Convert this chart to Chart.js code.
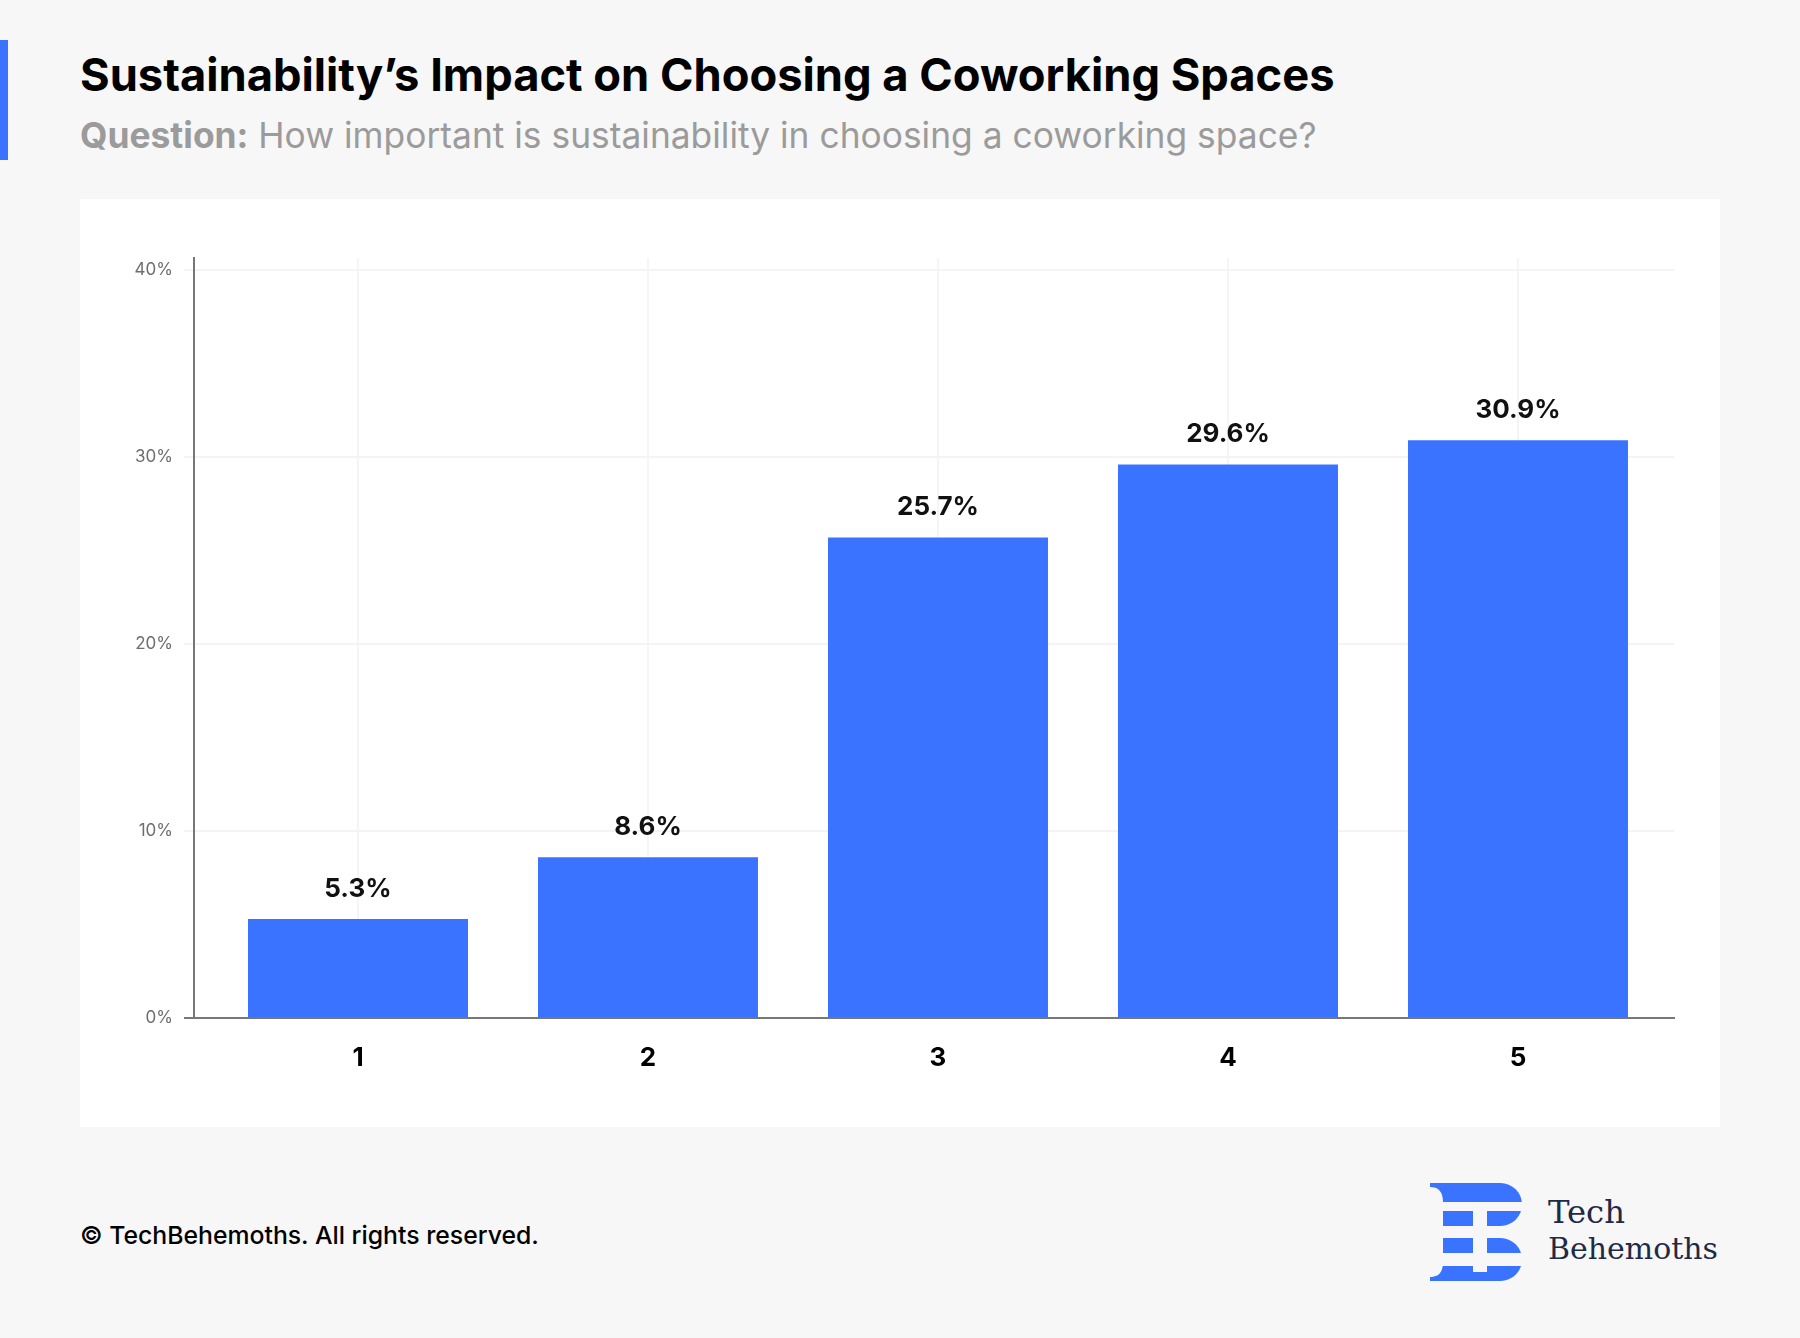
<!DOCTYPE html>
<html>
<head>
<meta charset="utf-8">
<script src="https://cdn.jsdelivr.net/npm/chart.js@4.4.1/dist/chart.umd.min.js"></script>
<style>
  html, body { margin: 0; padding: 0; }
  body { width: 1800px; height: 1338px; background: #f7f7f7; position: relative; overflow: hidden; font-family: Inter, sans-serif; }
  .accent { position: absolute; left: 0; top: 40px; width: 8px; height: 120px; background: #3a73ff; }
  .txt { position: absolute; left: 80px; line-height: 1; white-space: nowrap; }
  #title { font-weight: 700; color: #000; }
  #subtitle { color: #9b9b9b; font-weight: 400; }
  #subtitle b { font-weight: 700; }
  #footer { font-weight: 500; color: #000; }
  .card { position: absolute; left: 80px; top: 199px; width: 1640px; height: 928px; background: #fff; }
  .logo { position: absolute; left: 1430px; top: 1183px; }
  .brand { position: absolute; left: 1548px; font-family: "DejaVu Serif", serif; color: #1e2a46; line-height: 1; white-space: nowrap; }
</style>
</head>
<body>
<div class="accent"></div>
<div class="txt" id="title">Sustainability’s Impact on Choosing a Coworking Spaces</div>
<div class="txt" id="subtitle"><b>Question:</b> How important is sustainability in choosing a coworking space?</div>

<div class="card"><canvas id="chart"></canvas></div>

<div class="txt" id="footer">© TechBehemoths. All rights reserved.</div>

<svg class="logo" width="92" height="98" viewBox="0 0 92 98">
  <path fill="#3a73ff" d="M0,0 H70.5 A21.5,21.5 0 0 1 70.5,43 H13 V19 C13,8 8,4 0,4 Z"/>
  <path fill="#3a73ff" d="M13,55 H70.5 A21.5,21.5 0 0 1 70.5,98 H0 V94 C8,94 13,90 13,79 Z"/>
  <g fill="#f7f7f7">
    <rect x="0" y="19" width="92" height="9"/>
    <rect x="0" y="70" width="92" height="13"/>
    <rect x="43" y="19" width="14" height="70"/>
  </g>
</svg>
<div class="brand" id="brand1">Tech</div>
<div class="brand" id="brand2">Behemoths</div>

<script>
const categories = ['1', '2', '3', '4', '5'];
const shares = [5.3, 8.6, 25.7, 29.6, 30.9];
const yTicks = [0, 10, 20, 30, 40];

// size a text block to a given width and put its baseline at a given y
function placeText(id, width, baseline, ascent) {
  const el = document.getElementById(id);
  el.style.fontSize = '100px';
  const w = el.getBoundingClientRect().width;
  const size = 100 * width / w;
  el.style.fontSize = size + 'px';
  el.style.top = (baseline - size * ascent) + 'px';
}

placeText('title', 1255, 91, 0.8635);
placeText('subtitle', 1237, 149, 0.8635);
placeText('footer', 459, 1244, 0.8635);
placeText('brand1', 77, 1223, 0.846);
placeText('brand2', 170, 1259, 0.846);

// value labels above the bars
const barLabels = {
  id: 'barLabels',
  afterDatasetsDraw(chart) {
    const ctx = chart.ctx;
    const meta = chart.getDatasetMeta(0);
    ctx.save();
    ctx.font = '700 26px Inter';
    ctx.fillStyle = '#111';
    ctx.textAlign = 'center';
    ctx.textBaseline = 'middle';
    meta.data.forEach((bar, i) => {
      ctx.fillText(shares[i].toFixed(1) + '%', bar.x, bar.y - 30);
    });
    ctx.restore();
  }
};

new Chart(document.getElementById('chart'), {
  type: 'bar',
  data: {
    datasets: [{
      data: categories.map((c, i) => ({ x: i + 1, y: shares[i] })),
      backgroundColor: '#3a73ff',
      barPercentage: 0.7586,
      categoryPercentage: 1
    }]
  },
  options: {
    responsive: true,
    maintainAspectRatio: false,
    animation: false,
    layout: { padding: { top: 59, right: 46, left: 0, bottom: 0 } },
    plugins: { legend: { display: false }, tooltip: { enabled: false } },
    scales: {
      x: {
        type: 'linear',
        min: 0.4345,
        max: 5.538,
        offset: false,
        afterBuildTicks: s => { s.ticks = categories.map((c, i) => ({ value: i + 1 })); },
        afterFit: s => { s.height = 109; },
        grid: { color: '#f5f5f5', lineWidth: 2, drawTicks: false, offset: false },
        border: { color: '#777', width: 2 },
        ticks: {
          callback: v => categories[v - 1],
          color: '#000',
          font: { family: 'Inter', size: 26, weight: '700' },
          padding: 25,
          maxRotation: 0,
          autoSkip: false
        }
      },
      y: {
        min: 0,
        max: 40.64,
        afterBuildTicks: s => { s.ticks = yTicks.map(v => ({ value: v })); },
        afterFit: s => { s.width = 114; },
        grid: {
          color: c => (c.tick && c.tick.value === 0 ? '#777' : '#f4f4f4'),
          lineWidth: 2,
          tickLength: 10
        },
        border: { color: '#777', width: 2 },
        ticks: {
          callback: v => v + '%',
          color: '#6e6e6e',
          font: { family: 'Inter', size: 17 },
          padding: 11
        }
      }
    }
  },
  plugins: [barLabels]
});
</script>
</body>
</html>
